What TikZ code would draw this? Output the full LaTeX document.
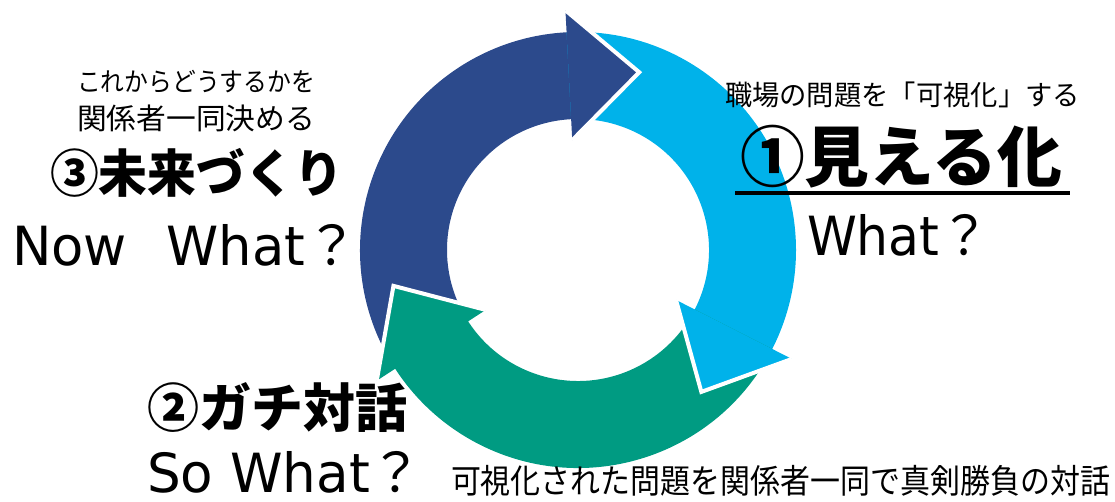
\documentclass[tikz,border=0pt]{standalone}
\usepackage{fontspec}
\usepackage{graphicx}
\setmainfont{Noto Sans CJK JP}
\newfontfamily\jp{Noto Sans CJK JP}
\newfontfamily\lat{DejaVu Sans}
\definecolor{dblue}{RGB}{44,74,140}
\definecolor{lblue}{RGB}{0,178,234}
\definecolor{tgreen}{RGB}{0,155,130}
\newcommand\fitbox[3]{\resizebox*{#1pt}{#2pt}{#3}}
\newcommand\fitw[2]{\resizebox{#1pt}{\height}{#2}}
\tikzset{
  txt/.style={inner sep=0pt, outer sep=0pt, anchor=center},
  lat/.style={inner sep=0pt, outer sep=0pt, anchor=base west, font=\lat\fontsize{54}{60}\selectfont},
  headedge/.style={white, line width=4pt, line join=miter}
}
\begin{document}
\begin{tikzpicture}[x=1pt,y=1pt]
\useasboundingbox (0,0) rectangle (1115,501);
% ---- cycle ----
\begin{scope}[shift={(578,251)}]
  \fill[dblue] (213:218) arc[start angle=213,end angle=91,radius=218] -- (91:131) arc[start angle=91,end angle=213,radius=131] -- cycle;
  \fill[lblue] (93:218) arc[start angle=93,end angle=-29,radius=218] -- (-29:131) arc[start angle=-29,end angle=93,radius=131] -- cycle;
  \fill[tgreen] (-27:218) arc[start angle=-27,end angle=-149,radius=218] -- (-149:131) arc[start angle=-149,end angle=-27,radius=131] -- cycle;
  % heads
  \fill[dblue] (93:240) -- (71:188) -- (93:110) -- cycle;
  \draw[headedge] (93:240) -- (71:188) -- (93:110);
  \fill[lblue] (-27:240) -- (-49:188) -- (-27:110) -- cycle;
  \draw[headedge] (-27:240) -- (-49:188) -- (-27:110);
  \fill[tgreen] (-147:240) -- (-169:188) -- (-147:110) -- cycle;
  \draw[headedge] (-147:240) -- (-169:188) -- (-147:110);
\end{scope}
% ---- texts: step 3 ----
\node[txt] (l1) at (196,419.5) {\fitbox{238}{23}{\fontsize{30}{36}\selectfont これからどうするかを}};
\node[txt] (l2) at (196,382.5) {\fitbox{238}{27}{\fontsize{30}{36}\selectfont 関係者一同決める}};
\node[txt] (t3) at (196.5,328.5) {\fitbox{293}{49}{\fontsize{50}{60}\selectfont\bfseries ③未来づくり}};
\node[lat] (w3) at (12,236) {\fitw{346}{Now\hspace{0.75em}What{\jp ？}}};
% ---- step 1 ----
\node[txt] (l4) at (902.5,406) {\fitbox{355}{26}{\fontsize{30}{36}\selectfont 職場の問題を「可視化」する}};
\node[txt] (t1) at (901,344.5) {\fitbox{322}{63}{\fontsize{60}{70}\selectfont\bfseries ①見える化}};
\coordinate (ulA) at (735,308);
\coordinate (ulB) at (1070,308);
\draw[line width=4pt] (ulA) -- (ulB);
\node[lat] (w1) at (807,245) {\fitw{183}{What{\jp ？}}};
% ---- step 2 ----
\node[txt] (t2) at (277,93) {\fitbox{260}{50}{\fontsize{50}{60}\selectfont\bfseries ②ガチ対話}};
\node[lat] (w2) at (147,9) {\fitw{276}{So What{\jp ？}}};
\node[txt] (l5) at (780.5,20) {\fitbox{659}{31}{\fontsize{30}{36}\selectfont 可視化された問題を関係者一同で真剣勝負の対話}};
\end{tikzpicture}
\end{document}
